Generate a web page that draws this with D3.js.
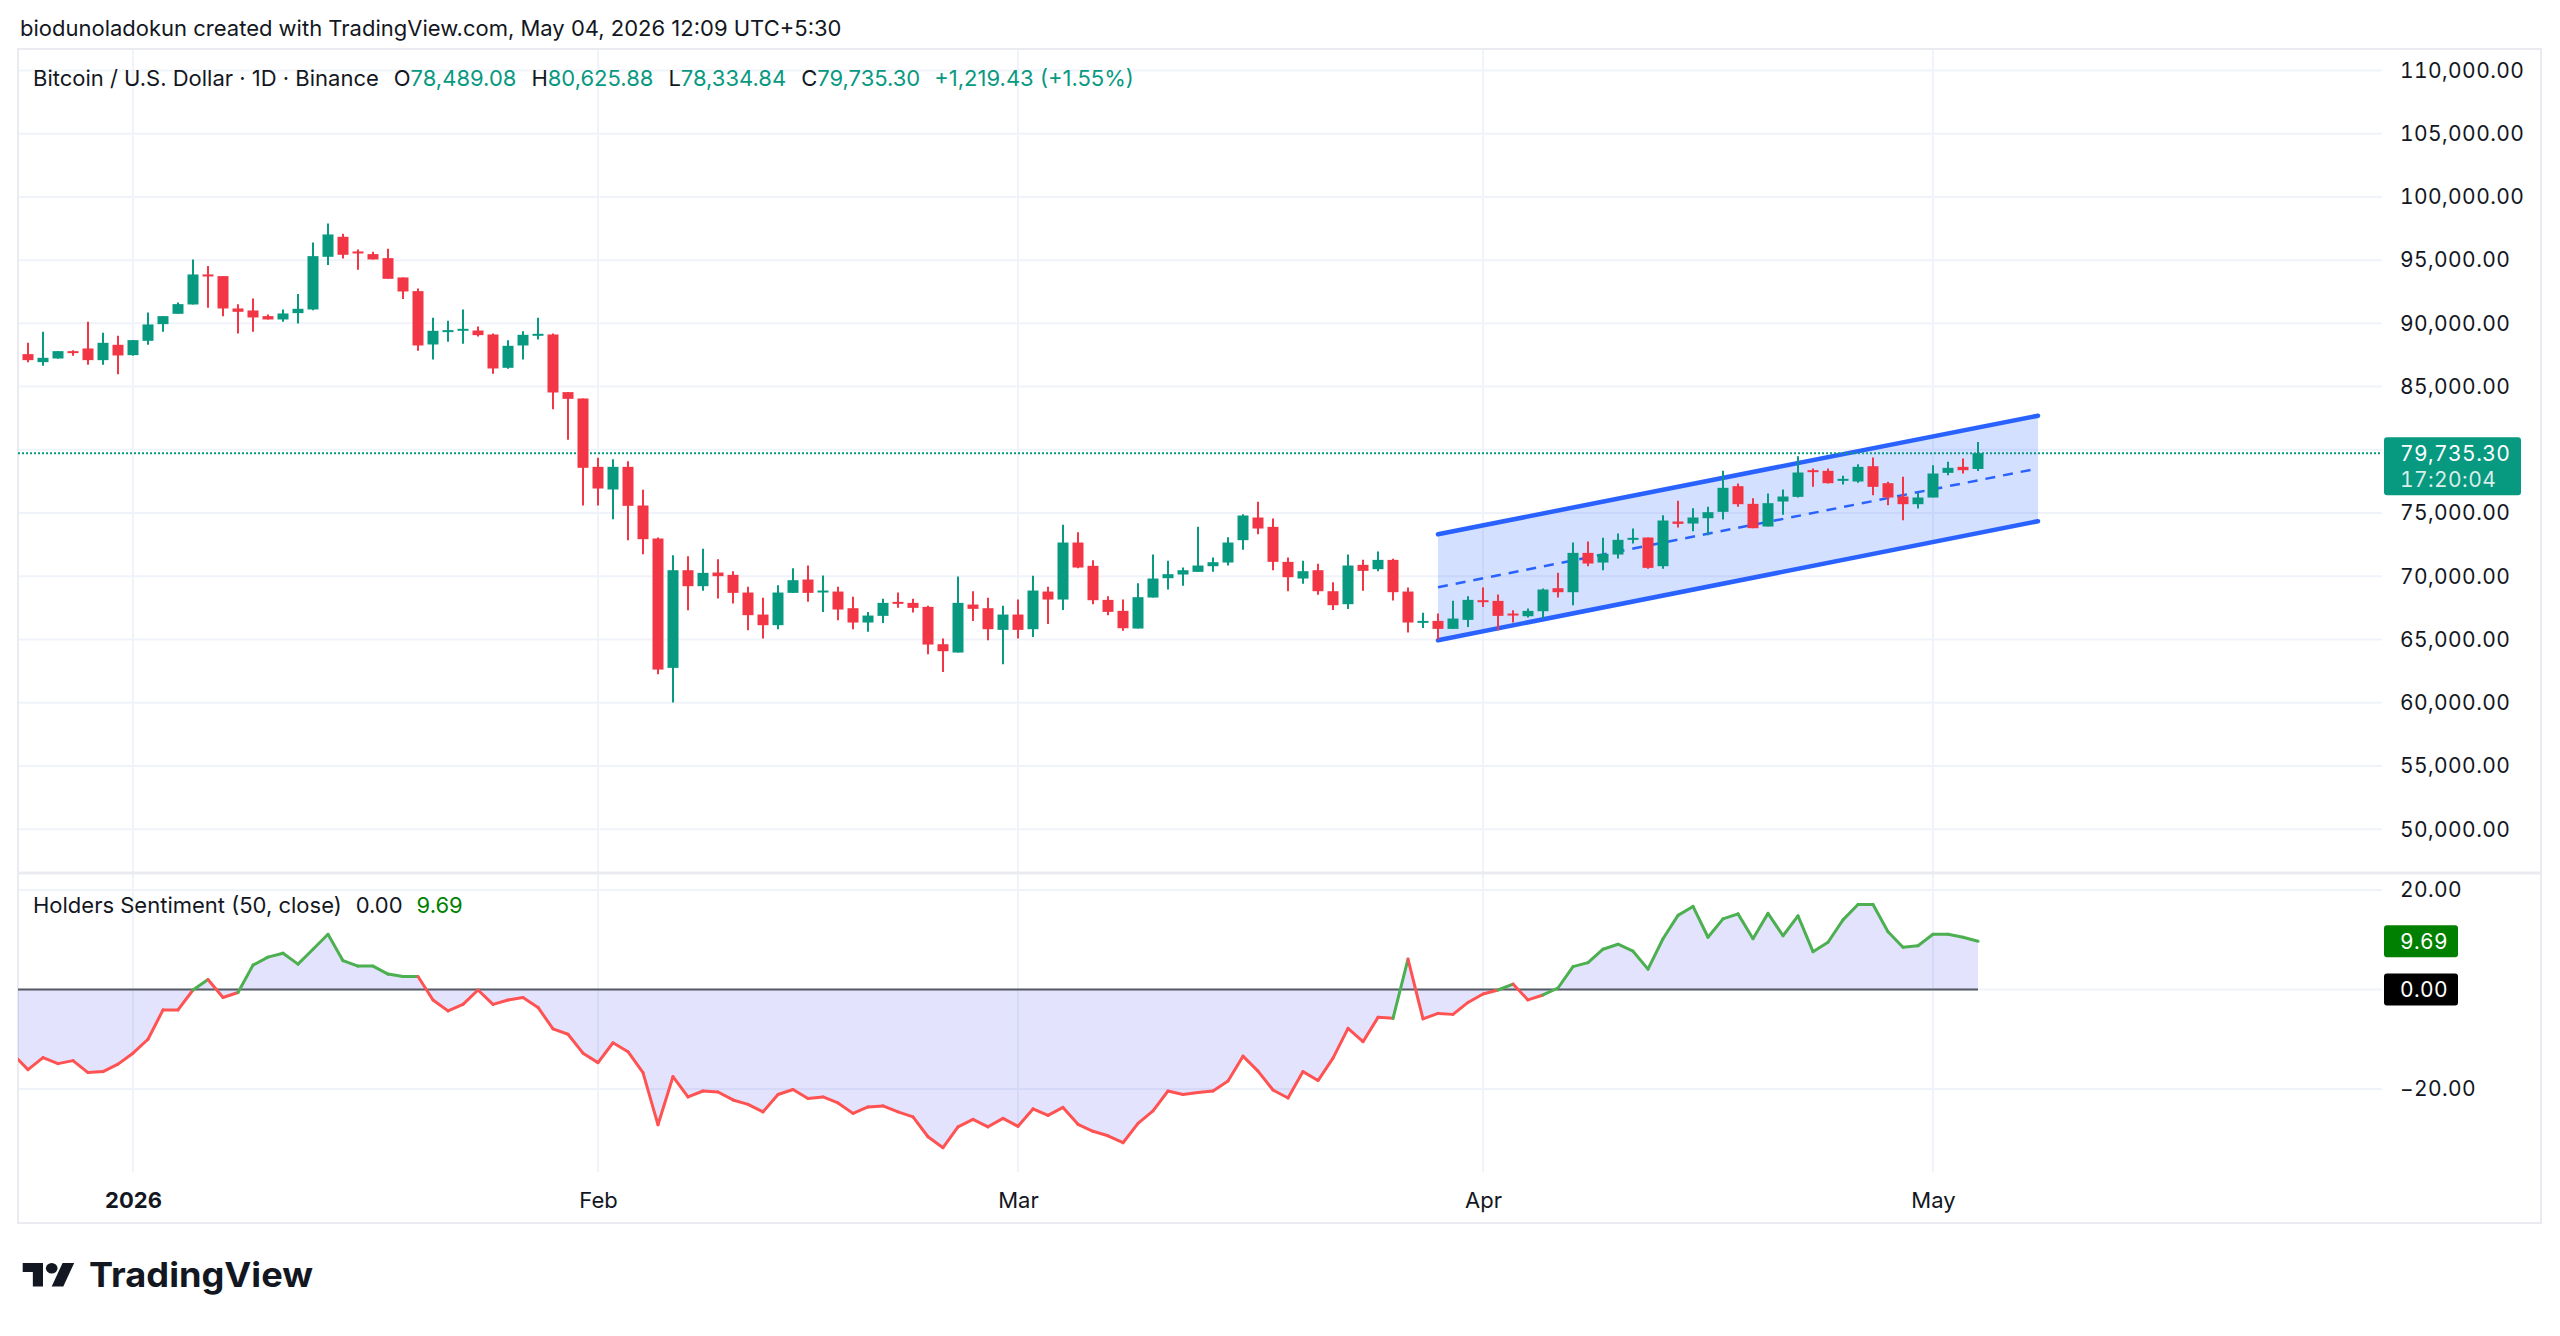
<!DOCTYPE html>
<html>
<head>
<meta charset="utf-8">
<script src="https://cdn.jsdelivr.net/npm/d3@7"></script>
<style>
  body { margin: 0; background: #fff; }
  svg text { font-family: Inter, "Noto Sans", sans-serif; }
  .num { font-feature-settings: "tnum"; }
</style>
</head>
<body>
<svg id="chart" width="2560" height="1336"></svg>
<script>
// BTC/USD daily candles, Dec 25 2025 .. May 04 2026
const firstDay = '2025-12-25';
const opens = [87567, 86934, 87224, 87804, 88015, 87092, 88305, 87488, 88621, 89939,
  90756, 91494, 93867, 93735, 91178, 91020, 90572, 90308, 90809, 91099,
  95264, 96845, 95686, 95475, 95158, 93630, 92549, 88331, 89333, 89438,
  89438, 89122, 86486, 88252, 89069, 89122, 84562, 84061, 78657, 76865,
  78657, 75600, 72990, 62762, 70485, 69220, 70301, 70116, 68719, 66979,
  66136, 68693, 69747, 68746, 68798, 67480, 66347, 66874, 67981, 67902,
  67586, 64633, 63975, 67770, 67480, 65767, 66979, 65819, 68798, 68166,
  72673, 70828, 68139, 67269, 65872, 68324, 69852, 70143, 70353, 70801,
  71091, 72858, 74650, 73912, 71144, 69826, 70485, 68824, 67796, 70907,
  70564, 71302, 68798, 66346, 66478, 65845, 66557, 68113, 68060, 67058,
  66847, 67242, 69061, 68745, 71855, 71091, 71724, 72910, 73068, 70801,
  74334, 74175, 74597, 75098, 77128, 75730, 73938, 75915, 76284, 78393,
  78340, 77628, 77497, 78709, 77365, 76310, 75704, 76231, 78182, 78656,
  78489.08];
const highs = [88463, 89333, 87804, 87883, 90124, 89254, 89017, 88674, 90862, 90572,
  91653, 95053, 94526, 93735, 91521, 91969, 90704, 91099, 92312, 96397,
  97900, 97083, 95844, 95659, 95896, 93630, 92760, 90440, 90202, 91099,
  89755, 89201, 88674, 89386, 90440, 89201, 84562, 84061, 79368, 79263,
  79105, 76838, 73068, 71672, 71593, 72173, 71356, 70406, 69167, 68297,
  69299, 70643, 70854, 70063, 69167, 68376, 67190, 68218, 68719, 68218,
  67665, 65081, 69984, 68825, 68297, 67665, 68166, 70037, 69167, 74070,
  73490, 71276, 68429, 68166, 69457, 71724, 71223, 70696, 73912, 71487,
  73095, 74914, 75889, 74571, 71487, 71223, 70986, 69536, 71724, 71302,
  71961, 71382, 69114, 67111, 67058, 68060, 68429, 69114, 68561, 67322,
  67454, 69035, 70274, 72673, 72752, 73042, 73384, 73780, 73068, 74834,
  75968, 75388, 75493, 78340, 77338, 76178, 76548, 76864, 79500, 78525,
  78525, 77945, 78867, 79394, 77470, 77866, 76600, 78788, 79052, 79316,
  80625.88];
const lows = [86934, 86644, 87198, 87435, 86723, 86723, 85985, 87435, 88305, 89333,
  90756, 91494, 91231, 90572, 89201, 89333, 90308, 90124, 89992, 91046,
  94605, 95132, 94236, 95053, 93524, 91917, 87830, 87145, 88542, 88384,
  88964, 86012, 86407, 87145, 88727, 83217, 80792, 75600, 75600, 74518,
  72858, 71751, 62261, 60021, 67322, 68851, 68245, 67849, 65740, 65081,
  65820, 68693, 67981, 67190, 66531, 65820, 65609, 66320, 67507, 67137,
  63843, 62445, 63975, 66478, 64950, 63052, 65081, 65213, 66241, 67348,
  70643, 67796, 66927, 65688, 65872, 68324, 68956, 69246, 70353, 70353,
  70854, 72093, 73332, 70485, 68824, 69404, 68535, 67348, 67427, 68851,
  70406, 68086, 65555, 65924, 65002, 65845, 66004, 67585, 65740, 66346,
  66742, 66663, 68324, 67717, 70801, 70485, 71408, 72594, 70590, 70590,
  73859, 73569, 73253, 74492, 75493, 73806, 73938, 74861, 76231, 77075,
  77338, 77259, 77391, 76416, 75625, 74439, 75361, 76231, 77998, 78129,
  78334.84];
const closes = [87092, 87277, 87804, 87672, 87092, 88463, 87461, 88674, 89913, 90572,
  91521, 93867, 93735, 91178, 90914, 90466, 90308, 90783, 91152, 95316,
  97030, 95422, 95580, 95053, 93524, 92522, 88252, 89412, 89465, 89570,
  89069, 86433, 88226, 89096, 89175, 84535, 84034, 78578, 76944, 78657,
  75573, 72937, 62630, 70485, 69220, 70275, 70011, 68693, 66927, 66136,
  68719, 69694, 68693, 68877, 67375, 66347, 66900, 67902, 67902, 67507,
  64607, 64080, 67902, 67428, 65819, 66979, 65767, 68877, 68166, 72673,
  70696, 68113, 67190, 65898, 68350, 69826, 70169, 70485, 70854, 71118,
  72673, 74808, 73780, 71144, 69931, 70406, 68824, 67717, 70854, 70432,
  71302, 68746, 66346, 66478, 65845, 66663, 68139, 68060, 66874, 66979,
  67269, 68956, 68745, 71855, 71012, 71776, 72884, 73042, 70670, 74413,
  74149, 74650, 75071, 76996, 75704, 73806, 75783, 76310, 78208, 78314,
  77365, 77708, 78656, 77075, 76231, 75704, 76231, 78129, 78577, 78393,
  79735.30];

// Holders Sentiment (50, close), one value per day from Dec 24 2025
const sentimentStart = '2025-12-24';
const sentiment = [-13.0, -16.1, -13.7, -14.9, -14.3, -16.7, -16.5, -15.0, -12.8, -10.0,
  -4.1, -4.1, -0.1, 2.0, -1.6, -0.6, 4.9, 6.5, 7.3, 5.1,
  8.1, 11.1, 5.8, 4.7, 4.7, 3.1, 2.6, 2.6, -2.1, -4.3,
  -3.0, -0.1, -3.0, -2.1, -1.6, -3.6, -7.9, -9.0, -12.8, -14.7,
  -10.7, -12.5, -16.7, -27.2, -17.5, -21.6, -20.4, -20.6, -22.2, -23.1,
  -24.6, -21.1, -20.1, -21.9, -21.6, -22.8, -24.9, -23.6, -23.4, -24.6,
  -25.6, -29.6, -31.8, -27.6, -26.1, -27.6, -25.9, -27.5, -24.0, -25.3,
  -23.7, -27.1, -28.5, -29.4, -30.8, -26.9, -24.4, -20.4, -21.1, -20.7,
  -20.4, -18.4, -13.4, -16.4, -20.2, -21.8, -16.5, -18.3, -13.8, -7.8,
  -10.5, -5.6, -5.8, 6.1, -5.9, -4.8, -5.0, -2.6, -0.9, -0.1,
  1.1, -2.1, -1.1, 0.3, 4.6, 5.4, 8.1, 9.1, 7.7, 4.1,
  10.2, 14.9, 16.7, 10.5, 14.2, 15.2, 10.2, 15.3, 10.8, 14.8,
  7.6, 9.5, 14.0, 17.1, 17.1, 11.6, 8.5, 8.8, 11.1, 11.1,
  10.5, 9.69];

const priceTicks = [110000, 105000, 100000, 95000, 90000, 85000, 80000, 75000,
  70000, 65000, 60000, 55000, 50000];
const sentimentTicks = [20, 0, -20];
const monthTicks = ['2026-01-01', '2026-02-01', '2026-03-01', '2026-04-01', '2026-05-01'];
const monthLabels = ['2026', 'Feb', 'Mar', 'Apr', 'May'];

// parallel channel drawing: [date, price]
const channelUpper = [['2026-03-29', 73330], ['2026-05-08', 82700]];
const channelLower = [['2026-03-29', 64950], ['2026-05-08', 74360]];

const lastPrice = 79735.30;
const priceChange = '+1,219.43 (+1.55%)';
const countdown = '17:20:04';
const lastSentiment = 9.69;
const headerText = 'biodunoladokun created with TradingView.com, May 04, 2026 12:09 UTC+5:30';

const UP = '#089981';
const DOWN = '#F23645';
const INK = '#131722';
const GRID = '#f0f3fa';

const frame = { left: 18, right: 2541, top: 49, bottom: 1223 };
const plotRight = 2382;
const pricePane = { top: 49, bottom: 873 };
const indPane = { top: 873, bottom: 1172 };

const parse = d3.utcParse('%Y-%m-%d');
const days = d3.utcDay.range(parse(firstDay), d3.utcDay.offset(parse(firstDay), opens.length));
const candles = days.map((d, i) => ({
  date: d, o: opens[i], h: highs[i], l: lows[i], c: closes[i],
}));
const sentDays = d3.utcDay.range(parse(sentimentStart),
  d3.utcDay.offset(parse(sentimentStart), sentiment.length));
const sent = sentDays.map((d, i) => ({ date: d, v: sentiment[i] }));

const x = d3.scaleUtc()
  .domain([parse('2026-01-01'), parse('2026-05-01')])
  .range([133, 1933]);
const y = d3.scaleLinear().domain([50000, 110000]).range([829.3, 70.4]);
const yi = d3.scaleLinear().domain([-20, 20]).range([1089, 890]);

const svg = d3.select('#chart');
const fmt = d3.format(',.2f');

svg.append('text')
  .attr('x', 20).attr('y', 36)
  .attr('font-size', 22).attr('fill', INK)
  .text(headerText);

const defs = svg.append('defs');
defs.append('clipPath').attr('id', 'clip-price')
  .append('rect')
  .attr('x', frame.left).attr('y', pricePane.top)
  .attr('width', plotRight - frame.left).attr('height', pricePane.bottom - pricePane.top);
defs.append('clipPath').attr('id', 'clip-ind')
  .append('rect')
  .attr('x', frame.left).attr('y', indPane.top)
  .attr('width', plotRight - frame.left).attr('height', indPane.bottom - indPane.top);

// grid
const grid = svg.append('g').attr('stroke', GRID).attr('stroke-width', 2);
grid.selectAll('line.h')
  .data(priceTicks)
  .join('line')
  .attr('class', 'h')
  .attr('x1', frame.left).attr('x2', plotRight)
  .attr('y1', (d) => y(d)).attr('y2', (d) => y(d));
grid.selectAll('line.hi')
  .data(sentimentTicks)
  .join('line')
  .attr('class', 'hi')
  .attr('x1', frame.left).attr('x2', plotRight)
  .attr('y1', (d) => yi(d)).attr('y2', (d) => yi(d));
grid.selectAll('line.v')
  .data(monthTicks.map(parse))
  .join('line')
  .attr('class', 'v')
  .attr('x1', (d) => x(d)).attr('x2', (d) => x(d))
  .attr('y1', pricePane.top).attr('y2', indPane.bottom);

// frame and separators
svg.append('rect')
  .attr('x', frame.left).attr('y', frame.top)
  .attr('width', frame.right - frame.left).attr('height', frame.bottom - frame.top)
  .attr('fill', 'none').attr('stroke', '#e9ebf0').attr('stroke-width', 2);
svg.append('line')
  .attr('x1', frame.left).attr('x2', frame.right)
  .attr('y1', pricePane.bottom).attr('y2', pricePane.bottom)
  .attr('stroke', '#e9ebf0').attr('stroke-width', 3);

// price pane
const pp = svg.append('g').attr('clip-path', 'url(#clip-price)');

const chPt = (p) => [x(parse(p[0])), y(p[1])];
const up = channelUpper.map(chPt);
const lo = channelLower.map(chPt);
const mid = up.map((p, i) => [p[0], (p[1] + lo[i][1]) / 2]);

pp.append('path')
  .attr('d', d3.line()([up[0], up[1], lo[1], lo[0]]) + 'Z')
  .attr('fill', 'rgba(41,98,255,0.2)');
pp.append('path')
  .attr('d', d3.line()(mid))
  .attr('stroke', '#2962FF').attr('stroke-width', 2.5)
  .attr('stroke-dasharray', '10,8').attr('fill', 'none');
[up, lo].forEach((seg) => {
  pp.append('path')
    .attr('d', d3.line()(seg))
    .attr('stroke', '#2962FF').attr('stroke-width', 4.5)
    .attr('stroke-linecap', 'round').attr('fill', 'none');
});

pp.append('line')
  .attr('x1', frame.left).attr('x2', plotRight)
  .attr('y1', y(lastPrice)).attr('y2', y(lastPrice))
  .attr('stroke', UP).attr('stroke-width', 2)
  .attr('stroke-dasharray', '2,2');

const bodyW = 11;
const cg = pp.append('g')
  .selectAll('g')
  .data(candles)
  .join('g')
  .attr('fill', (d) => (d.c >= d.o ? UP : DOWN))
  .attr('stroke', (d) => (d.c >= d.o ? UP : DOWN));
cg.append('line')
  .attr('x1', (d) => x(d.date)).attr('x2', (d) => x(d.date))
  .attr('y1', (d) => y(d.h)).attr('y2', (d) => y(d.l))
  .attr('stroke-width', 2);
cg.append('rect')
  .attr('x', (d) => x(d.date) - bodyW / 2)
  .attr('y', (d) => y(Math.max(d.o, d.c)))
  .attr('width', bodyW)
  .attr('height', (d) => Math.max(2, Math.abs(y(d.o) - y(d.c))))
  .attr('stroke', 'none');

// legend
const n = opens.length - 1;
const legendParts = [
  ['Bitcoin / U.S. Dollar · 1D · Binance', INK, 0],
  ['O', INK, 15], [fmt(opens[n]), UP, 0],
  ['H', INK, 15], [fmt(highs[n]), UP, 0],
  ['L', INK, 15], [fmt(lows[n]), UP, 0],
  ['C', INK, 15], [fmt(closes[n]), UP, 0],
  [priceChange, UP, 14],
];
const legend = svg.append('text')
  .attr('x', 33).attr('y', 86)
  .attr('font-size', 22);
legend.selectAll('tspan')
  .data(legendParts)
  .join('tspan')
  .attr('dx', (d) => d[2])
  .attr('fill', (d) => d[1])
  .text((d) => d[0]);

// price axis
const yAxis = svg.append('g')
  .attr('transform', `translate(${2400},0)`)
  .call(d3.axisRight(y)
    .tickValues(priceTicks.filter((d) => Math.abs(y(d) - y(lastPrice)) > 30))
    .tickSize(0).tickPadding(0)
    .tickFormat(fmt));
yAxis.select('.domain').remove();
yAxis.selectAll('text')
  .attr('class', 'num')
  .attr('font-family', null)
  .attr('font-size', 21)
  .attr('letter-spacing', 0.4)
  .attr('fill', INK);

const pl = svg.append('g').attr('transform', `translate(2384,${y(lastPrice)})`);
pl.append('rect')
  .attr('x', 0).attr('y', -16).attr('width', 137).attr('height', 58)
  .attr('rx', 3).attr('fill', UP);
pl.append('text')
  .attr('class', 'num')
  .attr('x', 16).attr('y', 0).attr('dy', '0.35em')
  .attr('font-size', 21).attr('letter-spacing', 0.4).attr('fill', '#fff')
  .text(fmt(lastPrice));
pl.append('text')
  .attr('class', 'num')
  .attr('x', 16).attr('y', 26).attr('dy', '0.35em')
  .attr('font-size', 21).attr('letter-spacing', 0.4).attr('fill', '#fff')
  .attr('fill-opacity', 0.85)
  .text(countdown);

// indicator pane
const ip = svg.append('g').attr('clip-path', 'url(#clip-ind)');
ip.append('path')
  .datum(sent)
  .attr('d', d3.area()
    .x((d) => x(d.date))
    .y0(yi(0))
    .y1((d) => yi(d.v)))
  .attr('fill', 'rgba(40,40,240,0.13)');
ip.append('line')
  .attr('x1', x(sent[0].date)).attr('x2', x(sent[sent.length - 1].date))
  .attr('y1', yi(0)).attr('y2', yi(0))
  .attr('stroke', '#555a63').attr('stroke-width', 2);
const segs = d3.pairs(sent);
ip.append('g')
  .selectAll('path')
  .data(segs)
  .join('path')
  .attr('d', (d) => d3.line().x((p) => x(p.date)).y((p) => yi(p.v))(d))
  .attr('stroke', (d) => (d[1].v >= 0 ? '#4caf50' : '#ff5252'))
  .attr('stroke-width', 3)
  .attr('stroke-linecap', 'round')
  .attr('fill', 'none');

const iAxis = svg.append('g')
  .attr('transform', 'translate(2400,0)')
  .call(d3.axisRight(yi)
    .tickValues(sentimentTicks.filter((d) => d !== 0))
    .tickSize(0).tickPadding(0)
    .tickFormat(d3.format('.2f')));
iAxis.select('.domain').remove();
iAxis.selectAll('text')
  .attr('class', 'num')
  .attr('font-family', null)
  .attr('font-size', 21)
  .attr('letter-spacing', 0.4)
  .attr('fill', INK);

[[lastSentiment, '#008000'], [0, '#000000']].forEach(([v, col]) => {
  const g = svg.append('g').attr('transform', `translate(2384,${yi(v)})`);
  g.append('rect')
    .attr('x', 0).attr('y', -16).attr('width', 74).attr('height', 32)
    .attr('rx', 3).attr('fill', col);
  g.append('text')
    .attr('class', 'num')
    .attr('x', 16).attr('dy', '0.35em')
    .attr('font-size', 21).attr('letter-spacing', 0.4).attr('fill', '#fff')
    .text(d3.format('.2f')(v));
});

const iLegend = svg.append('text')
  .attr('x', 33).attr('y', 913)
  .attr('font-size', 22);
iLegend.append('tspan').attr('fill', INK).text('Holders Sentiment (50, close)');
iLegend.append('tspan').attr('dx', 14).attr('fill', INK).text('0.00');
iLegend.append('tspan').attr('dx', 14).attr('fill', '#008000').text(d3.format('.2f')(lastSentiment));

// time axis
const xAxis = svg.append('g')
  .attr('transform', `translate(0,${1200})`)
  .call(d3.axisBottom(x)
    .tickValues(monthTicks.map(parse))
    .tickSize(0).tickPadding(0)
    .tickFormat((d, i) => monthLabels[i]));
xAxis.select('.domain').remove();
xAxis.selectAll('text')
  .attr('font-family', null)
  .attr('font-size', 22)
  .attr('y', 0).attr('dy', '0.35em')
  .attr('fill', INK)
  .attr('font-weight', (d, i) => (i === 0 ? 700 : 400));

// logo
const logo = svg.append('g');
logo.append('g')
  .attr('transform', 'translate(22.7,1257.8) scale(1.45,1.3)')
  .attr('fill', INK)
  .call((g) => {
    g.append('path').attr('d', 'M14 22H7V11H0V4h14v18zM28 22h-8l7.5-18h8L28 22z');
    g.append('circle').attr('cx', 20).attr('cy', 8).attr('r', 4);
  });
logo.append('text')
  .attr('x', 89).attr('y', 1287)
  .attr('font-size', 34).attr('font-weight', 700)
  .attr('fill', INK)
  .attr('textLength', 224).attr('lengthAdjust', 'spacingAndGlyphs')
  .text('TradingView');
</script>
</body>
</html>
